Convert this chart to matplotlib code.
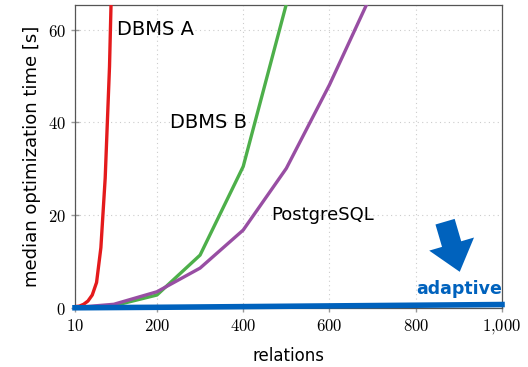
import numpy as np
import matplotlib
matplotlib.use("Agg")
import matplotlib.pyplot as plt
from matplotlib.patches import FancyArrowPatch

plt.rcParams['mathtext.fontset'] = 'cm'
plt.rcParams['font.family'] = ['DejaVu Sans']

# values
x_a = [10, 20, 30, 40, 50, 60, 70, 80, 90, 100]
y_a = [0.3, 0.4, 0.8, 1.5, 2.8, 5.5, 13, 28, 52, 90]

x_b = [10, 100, 200, 300, 400, 500]
y_b = [0.1, 0.5, 2.8, 11.4, 30.5, 65.5]

x_pg = [10, 100, 200, 300, 400, 500, 600, 700]
y_pg = [0.1, 0.8, 3.5, 8.6, 16.8, 30.1, 48.1, 68.2]

x_ad = [10, 200, 400, 600, 800, 1000]
y_ad = [0.05, 0.15, 0.3, 0.45, 0.6, 0.75]

xticks = [10, 200, 400, 600, 800, 1000]
xtick_labels = ['10', '200', '400', '600', '800', '1{,}000']
yticks = [0, 20, 40, 60]
ytick_labels = ['0', '20', '40', '60']

c_a = '#e41a1c'
c_b = '#4daf4a'
c_pg = '#984ea3'
c_ad = '#0062bd'

fig = plt.figure(figsize=(5.28, 3.67), dpi=100)
ax = fig.add_axes([75/528, 1 - 308/367, 427/528, 303/367])

ax.plot(x_b, y_b, color=c_b, lw=2.4, zorder=3)
ax.plot(x_pg, y_pg, color=c_pg, lw=2.4, zorder=3)
ax.plot(x_a, y_a, color=c_a, lw=2.4, zorder=3)
ax.plot(x_ad, y_ad, color=c_ad, lw=4, zorder=4, clip_on=False)

ax.set_xlim(10, 1000)
ax.set_ylim(0, 65.3)
ax.set_xticks(xticks)
ax.set_xticklabels(['$%s$' % s for s in xtick_labels], fontsize=12)
ax.set_yticks(yticks)
ax.set_yticklabels(['$%s$' % s for s in ytick_labels], fontsize=12)
ax.tick_params(direction='inout', length=6, color='#999999', width=1)
ax.grid(True, linestyle=(0, (1, 3)), color='#cccccc', lw=0.8)
for s in ax.spines.values():
    s.set_color('#555555')
    s.set_linewidth(0.9)

ax.set_xlabel('relations', fontsize=12, labelpad=8)
ax.set_ylabel('median optimization time [s]', fontsize=13, labelpad=5)

ax.text(108, 60, 'DBMS A', fontsize=14, va='center', ha='left')
ax.text(230, 40, 'DBMS B', fontsize=14, va='center', ha='left')
ax.text(465, 20, 'PostgreSQL', fontsize=13, va='center', ha='left')
ax.text(1000, 4.0, 'adaptive', fontsize=12.5, va='center', ha='right',
        color=c_ad, fontweight='bold')

arr = FancyArrowPatch((868, 18.6), (902, 7.8),
                      arrowstyle='simple,head_width=2.1,head_length=1.3,tail_width=0.9',
                      mutation_scale=16, color=c_ad, lw=0, zorder=5,
                      shrinkA=0, shrinkB=0)
ax.add_patch(arr)

fig.savefig('out.png', dpi=100)
